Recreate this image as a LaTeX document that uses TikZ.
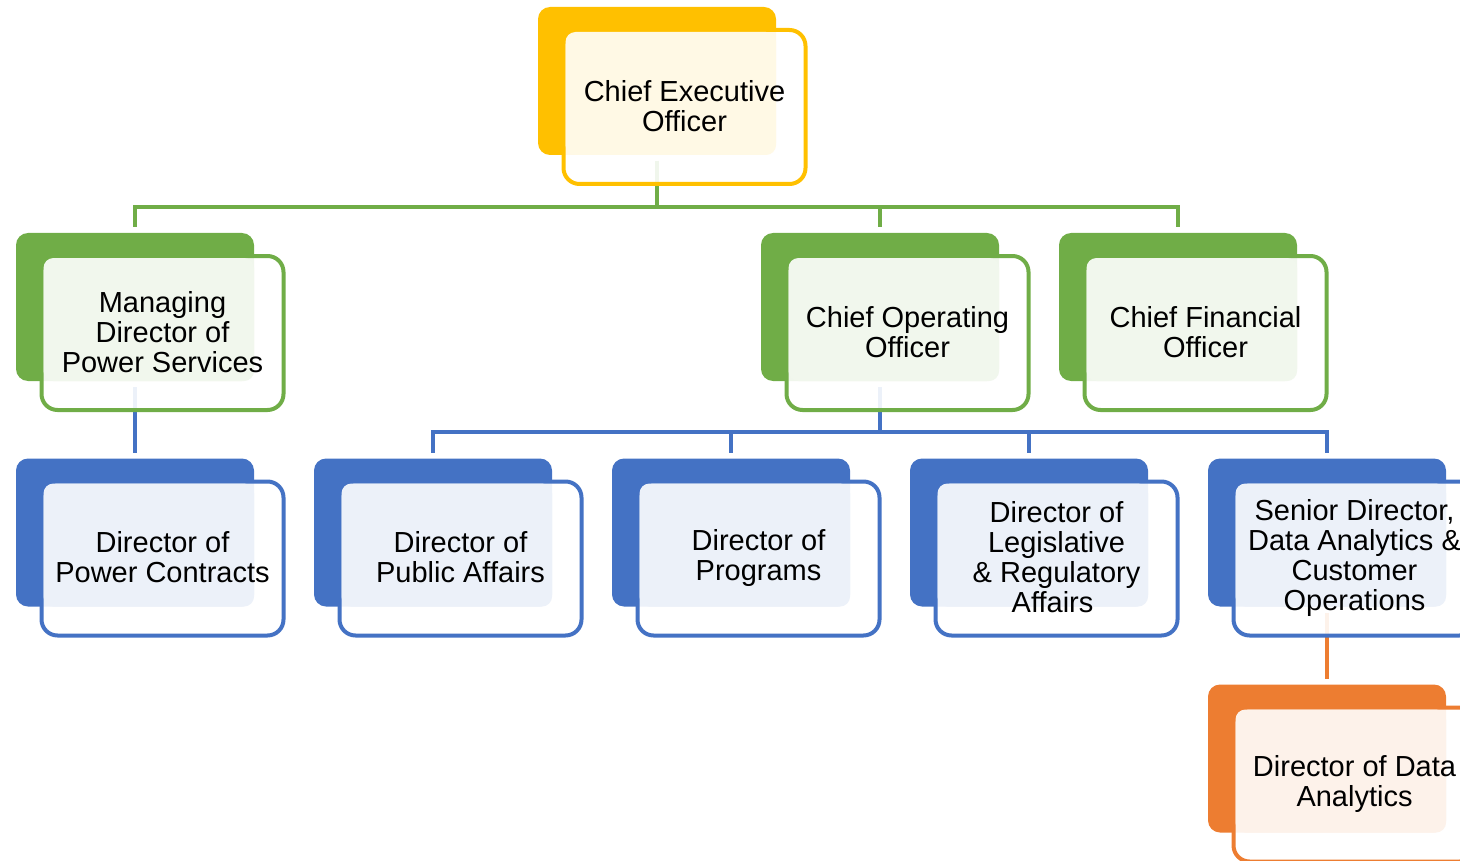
\documentclass[tikz,border=0pt]{standalone}
\usepackage{fontspec}
\setmainfont{Liberation Sans}
\usetikzlibrary{backgrounds}

\definecolor{orgyellow}{HTML}{FFC000}
\definecolor{orggreen}{HTML}{70AD47}
\definecolor{orgblue}{HTML}{4472C4}
\definecolor{orgorange}{HTML}{ED7D31}

\newcommand{\orgbox}[4]{%
  \node[back box, fill=#2] (#1) at (#3) {};
  \node[front box, draw=#2] (#1 f) at ([shift={(27.5,26)}]#1.center) {};
  \fill[#2!10!white, rounded corners=5pt] ([shift={(2,2)}]#1 f.north west) rectangle (#1.south east);
  \node[box text] (#1 t) at ([yshift=0.5pt]#1 f) {#4};
}

\begin{document}
\begin{tikzpicture}[x=0.5pt, y=-0.5pt,
    back box/.style={inner sep=0, outer sep=0, minimum width=119pt,
      minimum height=74pt, rounded corners=6pt},
    front box/.style={inner sep=0, outer sep=0, minimum width=121pt,
      minimum height=77pt, rounded corners=8pt, line width=2pt,
      fill=white, fill opacity=0.9},
    box text/.style={align=center, inner sep=0,
      font=\fontsize{14.5}{15}\selectfont},
    link/.style={draw=#1, line width=2pt, shorten <=3pt, shorten >=3pt}]
  \path[use as bounding box, clip] (0,0) rectangle (1460,861);

  \orgbox{ceo}{orgyellow}{657,81}{Chief Executive\\Officer}

  \orgbox{mds}{orggreen}{135,307}{Managing\\Director of\\Power Services}
  \orgbox{coo}{orggreen}{880,307}{Chief Operating\\Officer}
  \orgbox{cfo}{orggreen}{1178,307}{Chief Financial\\Officer}

  \orgbox{dpc}{orgblue}{135,532.5}{Director of\\Power Contracts}
  \orgbox{dpa}{orgblue}{433,532.5}{Director of\\Public Affairs}
  \orgbox{dpr}{orgblue}{731,532.5}{Director of\\Programs}
  \orgbox{dlr}{orgblue}{1029,532.5}{Director of\\Legislative\\\& Regulatory\\Affairs\kern4pt}
  \orgbox{sdo}{orgblue}{1327,532.5}{Senior Director,\\Data Analytics \&\\Customer\\Operations}

  \orgbox{dda}{orgorange}{1327,758.5}{Director of Data\\Analytics}

  \begin{scope}[on background layer]
    \draw[link=orggreen] (ceo.south) -- ++(0,52) -| (mds.north);
    \draw[link=orggreen] (ceo.south) -- ++(0,52) -| (coo.north);
    \draw[link=orggreen] (ceo.south) -- ++(0,52) -| (cfo.north);
    \draw[link=orgblue] (mds.south) -- (dpc.north);
    \draw[link=orgblue] (coo.south) -- ++(0,51) -| (dpa.north);
    \draw[link=orgblue] (coo.south) -- ++(0,51) -| (dpr.north);
    \draw[link=orgblue] (coo.south) -- ++(0,51) -| (dlr.north);
    \draw[link=orgblue] (coo.south) -- ++(0,51) -| (sdo.north);
    \draw[link=orgorange] (sdo.south) -- (dda.north);
  \end{scope}
\end{tikzpicture}
\end{document}
